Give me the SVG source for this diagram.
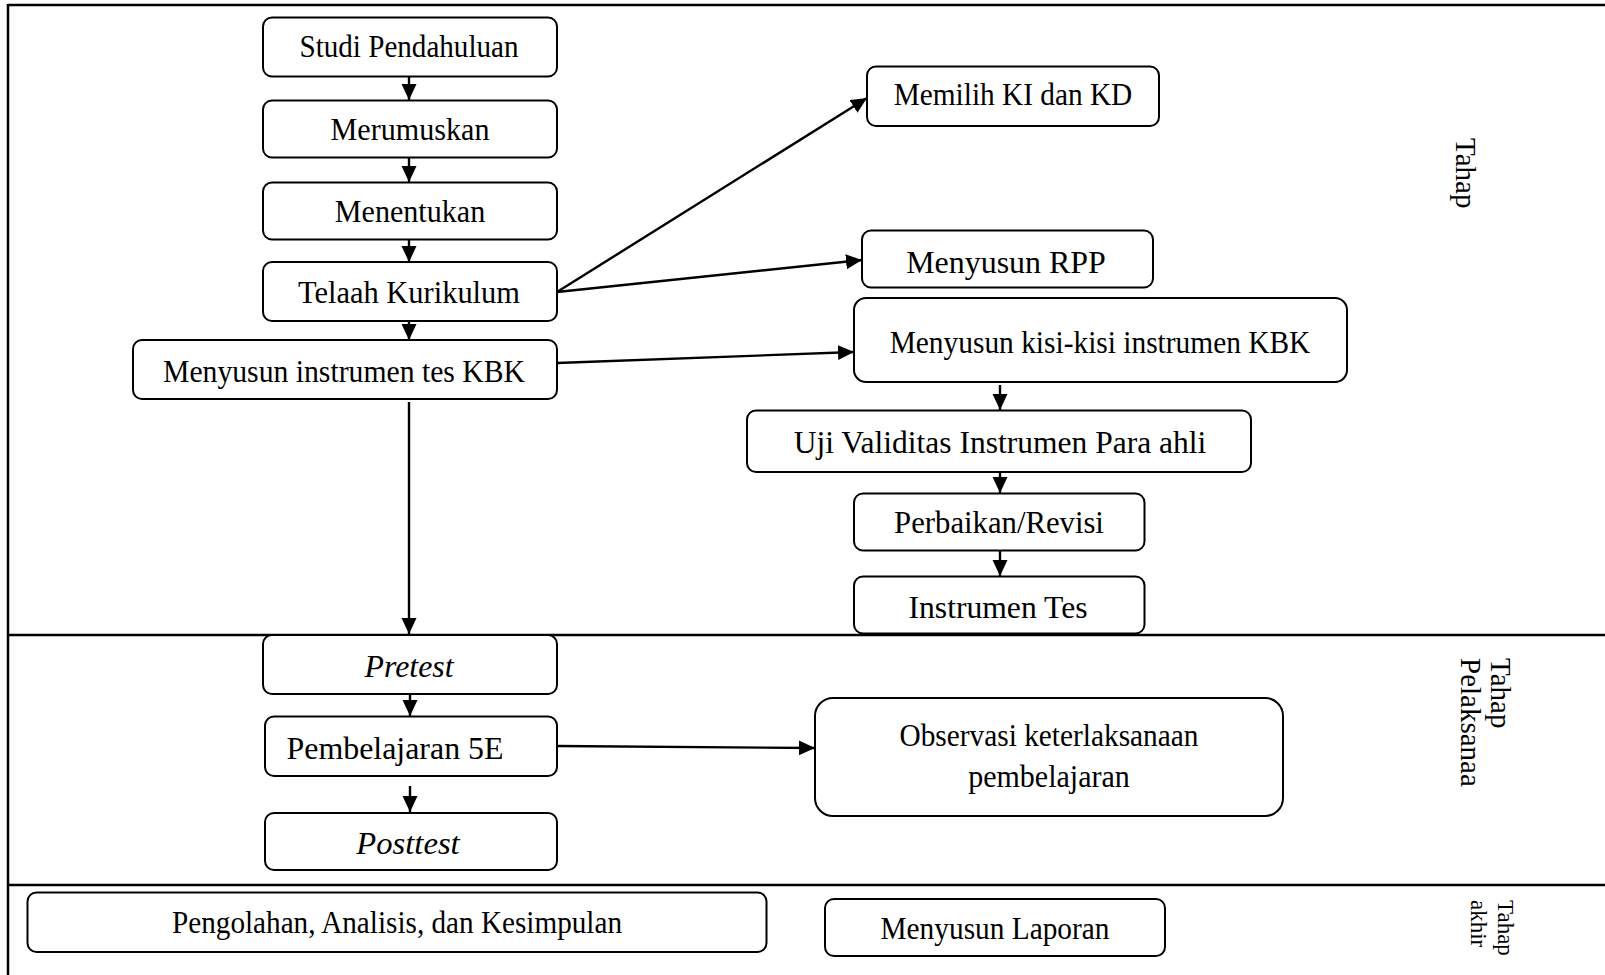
<svg xmlns="http://www.w3.org/2000/svg" width="1605" height="975" viewBox="0 0 1605 975">
<defs>
<style>
.box{fill:#fff;stroke:#000;stroke-width:2}
.t{font-family:"Liberation Serif","Times New Roman",serif;font-size:32px;fill:#000;text-anchor:middle}
.i{font-style:italic}
.v{font-family:"Liberation Serif","Times New Roman",serif;font-size:29px;fill:#000}
.c{stroke:#000;stroke-width:2.4;fill:none;marker-end:url(#ah)}
.frame{stroke:#000;stroke-width:2.5;fill:none}
</style>
<marker id="ah" markerUnits="userSpaceOnUse" markerWidth="18" markerHeight="18" refX="16" refY="7.5" orient="auto">
<path d="M0,0 L16,7.5 L0,15 z" fill="#000"/>
</marker>
</defs>
<g id="frame">
<line class="frame" x1="8" y1="5" x2="1605" y2="5"/>
<line class="frame" x1="8" y1="4" x2="8" y2="975"/>
<line class="frame" x1="8" y1="635" x2="1605" y2="635"/>
<line class="frame" x1="8" y1="885" x2="1605" y2="885"/>
</g>
<g id="connectors">
<line class="c" x1="409" y1="77" x2="409" y2="100"/>
<line class="c" x1="409" y1="158" x2="409" y2="182"/>
<line class="c" x1="409" y1="240" x2="409" y2="262"/>
<line class="c" x1="409" y1="321" x2="409" y2="340"/>
<line class="c" x1="557" y1="292" x2="867" y2="98"/>
<line class="c" x1="557" y1="292" x2="862" y2="260"/>
<line class="c" x1="557" y1="363" x2="854" y2="352"/>
<line class="c" x1="1000" y1="385" x2="1000" y2="410"/>
<line class="c" x1="1000" y1="472" x2="1000" y2="493"/>
<line class="c" x1="1000" y1="551" x2="1000" y2="576"/>
<line class="c" x1="409" y1="402" x2="409" y2="634"/>
<line class="c" x1="410" y1="692" x2="410" y2="716"/>
<line class="c" x1="410" y1="786" x2="410" y2="812"/>
<line class="c" x1="557" y1="746" x2="815" y2="748"/>
</g>
<g id="n-studi"><rect class="box" x="263" y="17.5" width="294" height="59" rx="9"/><text class="t" x="409" y="57" textLength="219" lengthAdjust="spacingAndGlyphs">Studi Pendahuluan</text></g>
<g id="n-merumuskan"><rect class="box" x="263" y="100.5" width="294" height="57" rx="9"/><text class="t" x="410" y="140" textLength="159" lengthAdjust="spacingAndGlyphs">Merumuskan</text></g>
<g id="n-menentukan"><rect class="box" x="263" y="182.5" width="294" height="57" rx="9"/><text class="t" x="410" y="222" textLength="150.5" lengthAdjust="spacingAndGlyphs">Menentukan</text></g>
<g id="n-telaah"><rect class="box" x="263" y="262" width="294" height="59" rx="9"/><text class="t" x="409" y="303" textLength="222" lengthAdjust="spacingAndGlyphs">Telaah Kurikulum</text></g>
<g id="n-instrumen"><rect class="box" x="133" y="340" width="424" height="59" rx="9"/><text class="t" x="344" y="382" textLength="362" lengthAdjust="spacingAndGlyphs">Menyusun instrumen tes KBK</text></g>
<g id="n-memilih"><rect class="box" x="867" y="66.5" width="292" height="59.5" rx="9"/><text class="t" x="1013" y="105" textLength="238.5" lengthAdjust="spacingAndGlyphs">Memilih KI dan KD</text></g>
<g id="n-rpp"><rect class="box" x="862" y="230.5" width="291" height="57" rx="9"/><text class="t" x="1006" y="273" textLength="199.6" lengthAdjust="spacingAndGlyphs">Menyusun RPP</text></g>
<g id="n-kisi"><rect class="box" x="854" y="298" width="493" height="84" rx="12"/><text class="t" x="1100" y="353" textLength="420.7" lengthAdjust="spacingAndGlyphs">Menyusun kisi-kisi instrumen KBK</text></g>
<g id="n-uji"><rect class="box" x="747" y="410.5" width="504" height="61.5" rx="9"/><text class="t" x="1000" y="453" textLength="412.5" lengthAdjust="spacingAndGlyphs">Uji Validitas Instrumen Para ahli</text></g>
<g id="n-revisi"><rect class="box" x="854" y="493.5" width="290.5" height="57" rx="9"/><text class="t" x="999" y="533" textLength="209.8" lengthAdjust="spacingAndGlyphs">Perbaikan/Revisi</text></g>
<g id="n-tes"><rect class="box" x="854" y="576.5" width="290.5" height="57" rx="9"/><text class="t" x="998" y="618" textLength="179" lengthAdjust="spacingAndGlyphs">Instrumen Tes</text></g>
<g id="n-pretest"><rect class="box" x="263" y="635" width="294" height="59" rx="9"/><text class="t i" x="409" y="677" textLength="89" lengthAdjust="spacingAndGlyphs">Pretest</text></g>
<g id="n-5e"><rect class="box" x="265" y="716.5" width="292" height="59.5" rx="9"/><text class="t" x="395" y="759" textLength="217" lengthAdjust="spacingAndGlyphs">Pembelajaran 5E</text></g>
<g id="n-posttest"><rect class="box" x="265" y="813" width="292" height="57" rx="9"/><text class="t i" x="408" y="854" textLength="103.4" lengthAdjust="spacingAndGlyphs">Posttest</text></g>
<g id="n-observasi"><rect class="box" x="815" y="698" width="468" height="118" rx="18"/><text class="t" x="1049" y="746" textLength="299" lengthAdjust="spacingAndGlyphs">Observasi keterlaksanaan</text><text class="t" x="1049" y="787" textLength="161.7" lengthAdjust="spacingAndGlyphs">pembelajaran</text></g>
<g id="n-pengolahan"><rect class="box" x="27.5" y="892.5" width="739" height="59.5" rx="9"/><text class="t" x="397" y="933" textLength="450" lengthAdjust="spacingAndGlyphs">Pengolahan, Analisis, dan Kesimpulan</text></g>
<g id="n-laporan"><rect class="box" x="825" y="899" width="340" height="57" rx="9"/><text class="t" x="995" y="939" textLength="229" lengthAdjust="spacingAndGlyphs">Menyusun Laporan</text></g>
<g id="labels">
<text class="v" transform="translate(1456,138) rotate(90)">Tahap</text>
<text class="v" transform="translate(1491,658) rotate(90)">Tahap</text>
<text class="v" transform="translate(1461,658) rotate(90)">Pelaksanaa</text>
<text class="v" style="font-size:23px" transform="translate(1498,900) rotate(90)">Tahap</text>
<text class="v" style="font-size:23px" transform="translate(1471,900) rotate(90)">akhir</text>
</g>
</svg>
